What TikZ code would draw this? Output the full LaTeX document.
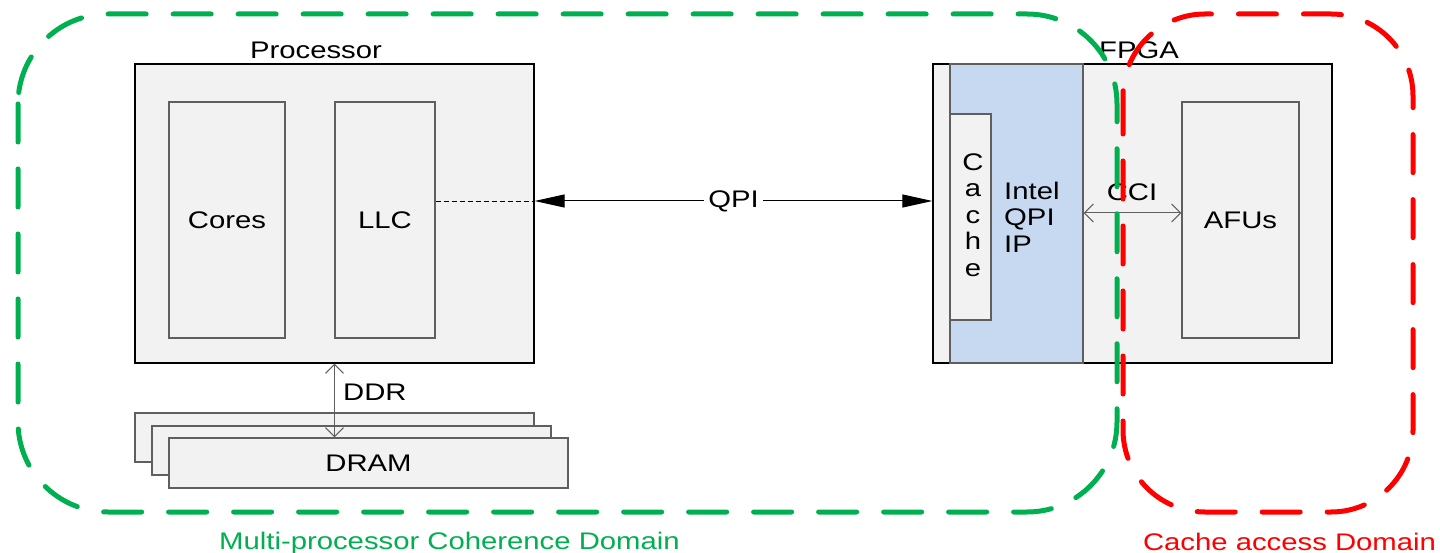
\documentclass[tikz,border=0pt]{standalone}
\usepackage{fontspec}
\setmainfont[FakeStretch=1.22]{Liberation Sans}
\usetikzlibrary{arrows.meta}
\definecolor{boxfill}{RGB}{242,242,242}
\definecolor{qpiblue}{RGB}{198,217,241}
\definecolor{domgreen}{RGB}{0,176,80}
\definecolor{domred}{RGB}{255,0,0}
\definecolor{edgegray}{RGB}{95,95,95}
\begin{document}
\begin{tikzpicture}[x=1pt,y=-1pt,
  every node/.style={font=\fontsize{24}{26.5}\selectfont, inner sep=0pt},
  outerbox/.style={draw=black, fill=boxfill, line width=1.2pt},
  innerbox/.style={draw=edgegray, fill=boxfill, line width=1.4pt},
  bluebox/.style={draw=edgegray, fill=qpiblue, line width=1.4pt},
  domain/.style={line width=5pt, dash pattern=on 38pt off 27pt, line cap=round, rounded corners=#1},
  bigarrow/.style={{Triangle[length=30pt,width=13pt]}-{Triangle[length=30pt,width=13pt]}, line width=1pt, draw=black},
  thinarrow/.style={{Straight Barb[length=9pt,width=18pt]}-{Straight Barb[length=9pt,width=18pt]}, line width=1pt, draw=edgegray},
  lbl/.style={text=black}
]
\useasboundingbox (0,0) rectangle (1440,553);

% Processor
\node[outerbox, minimum width=399pt, minimum height=299pt] (proc) at (334.5,213.5) {};
\node[innerbox, minimum width=116pt, minimum height=236pt] (cores) at (227,220) {Cores};
\node[innerbox, minimum width=100pt, minimum height=236pt] (llc) at (385,220) {LLC};
\node[lbl] (proclbl) at (316,50) {Processor};

% DRAM stack
\node[innerbox, minimum width=399pt, minimum height=49pt] (dram1) at (334.5,437.5) {};
\node[innerbox, minimum width=399pt, minimum height=49pt] (dram2) at (351.5,450.5) {};
\node[innerbox, minimum width=399pt, minimum height=50pt] (dram3) at (368.5,463) {DRAM};

% FPGA
\node[outerbox, minimum width=399pt, minimum height=299pt] (fpga) at (1132.5,213.5) {};
\node[bluebox, minimum width=133pt, minimum height=299pt] (qpiip) at (1016.5,213.5) {};
\node[innerbox, minimum width=41pt, minimum height=206pt] (cache) at (970.5,217) {};
\node[align=center] (cachetxt) at (973,215) {C\\a\\c\\h\\e};
\node[anchor=west, align=left] (intel) at (1004,217) {Intel\\QPI\\IP};
\node[innerbox, minimum width=117pt, minimum height=236pt] (afus) at (1240.5,220) {AFUs};
\node[lbl] (fpgalbl) at (1139,50) {FPGA};

% connectors
\coordinate (qy) at (0,201);
\coordinate (cy) at (0,213);
\draw[dashed, line width=0.9pt, dash pattern=on 5pt off 3pt] (llc.east |- qy) -- (proc.east |- qy);
\draw[bigarrow] (proc.east |- qy) -- (fpga.west |- qy)
  node[midway, fill=white, inner xsep=4pt, inner ysep=2pt] (qpilbl) {QPI};
\draw[thinarrow] (qpiip.east |- cy) -- (afus.west |- cy);
\node (ccilbl) at (1132,192) {CCI};
\draw[thinarrow] (proc.south) -- (proc.south |- dram3.north);
\node[anchor=west] (ddrlbl) at (343,392) {DDR};

% domains
\draw[domain=90pt, draw=domgreen] (18,14) rectangle (1117,512);
\draw[domain=82pt, draw=domred] (1123,14) rectangle (1413,512);
\node[text=domgreen] (greenlbl) at (449.5,543) {Multi-processor Coherence Domain};
\node[text=domred] (redlbl) at (1289.5,542) {Cache access Domain};
\end{tikzpicture}
\end{document}
